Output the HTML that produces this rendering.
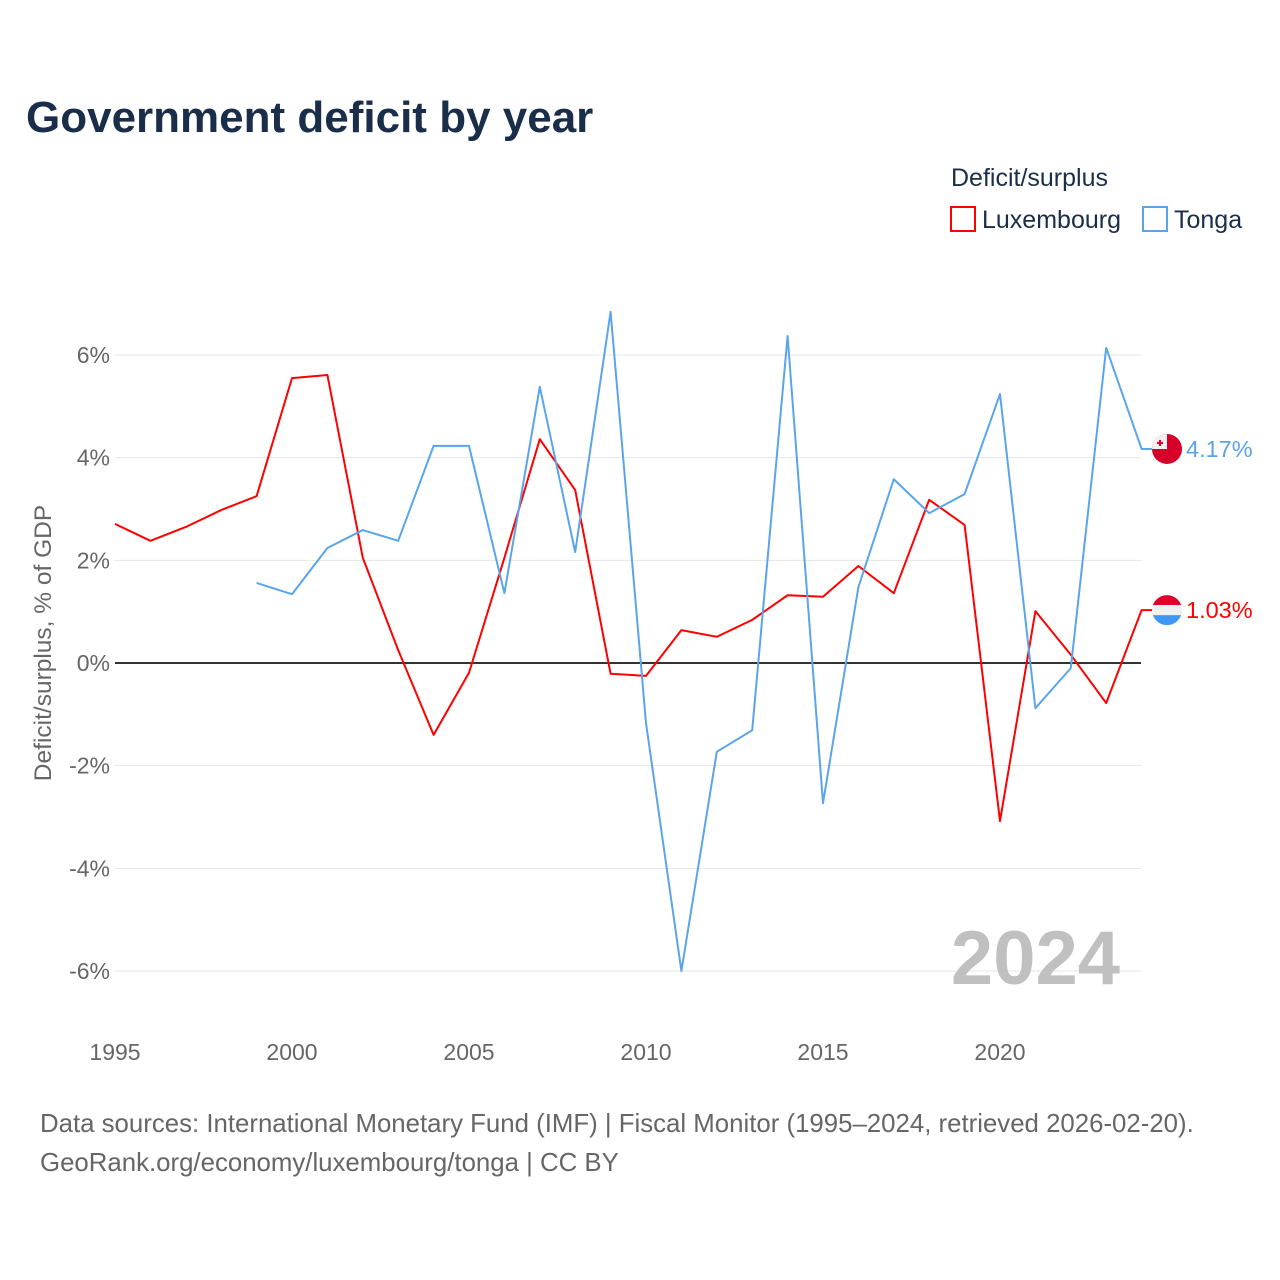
<!DOCTYPE html>
<html><head><meta charset="utf-8"><style>
body{margin:0;background:#fff;font-family:"Liberation Sans",sans-serif}
svg{display:block}
</style></head><body>
<svg id="c" width="1280" height="1280" xmlns="http://www.w3.org/2000/svg">
<text x="26" y="132" font-size="44" font-weight="bold" fill="#1a2e4a">Government deficit by year</text>
<text x="951" y="186" font-size="25" fill="#1a2e4a">Deficit/surplus</text>
<g><rect x="951" y="207" width="24" height="24" fill="none" stroke="#ff0000" stroke-width="2"/><text x="982" y="228" font-size="25" fill="#1a2e4a">Luxembourg</text></g>
<g><rect x="1143" y="207" width="24" height="24" fill="none" stroke="#5aa5ea" stroke-width="2"/><text x="1174" y="228" font-size="25" fill="#1a2e4a">Tonga</text></g>
<text transform="translate(51,643) rotate(-90)" text-anchor="middle" font-size="24.5" fill="#666">Deficit/surplus, % of GDP</text>
<g id="grid"></g><g id="series"></g>
<text x="1120" y="984" text-anchor="end" font-size="76" font-weight="bold" fill="#c0c0c0">2024</text>
<text x="40" y="1132" font-size="25.8" fill="#666">Data sources: International Monetary Fund (IMF) | Fiscal Monitor (1995–2024, retrieved 2026-02-20).</text>
<text x="40" y="1171" font-size="25.8" fill="#666">GeoRank.org/economy/luxembourg/tonga | CC BY</text>
</svg>
<script>
const yTicks=[6,4,2,0,-2,-4,-6];
const xTicks=[1995,2000,2005,2010,2015,2020];
const luxYears=[1995,1996,1997,1998,1999,2000,2001,2002,2003,2004,2005,2006,2007,2008,2009,2010,2011,2012,2013,2014,2015,2016,2017,2018,2019,2020,2021,2022,2023,2024];
const luxValues=[2.71,2.38,2.65,2.98,3.25,5.55,5.61,2.05,0.25,-1.40,-0.19,2.05,4.36,3.37,-0.21,-0.25,0.64,0.51,0.84,1.32,1.29,1.89,1.36,3.18,2.69,-3.08,1.01,0.16,-0.78,1.03];
const tonYears=[1999,2000,2001,2002,2003,2004,2005,2006,2007,2008,2009,2010,2011,2012,2013,2014,2015,2016,2017,2018,2019,2020,2021,2022,2023,2024];
const tonValues=[1.56,1.34,2.24,2.59,2.38,4.23,4.23,1.36,5.38,2.16,6.84,-1.17,-6.0,-1.73,-1.31,6.37,-2.73,1.48,3.58,2.92,3.29,5.24,-0.88,-0.10,6.14,4.17];
const NS="http://www.w3.org/2000/svg";
const xS=y=>115+(y-1995)*35.4;
const yS=v=>663-v*51.33;
function mk(t,a,p){const e=document.createElementNS(NS,t);for(const k in a)e.setAttribute(k,a[k]);p.appendChild(e);return e;}
const g=document.getElementById('grid');
yTicks.forEach(v=>{
 const l=mk('line',{x1:115,x2:1141,y1:yS(v),y2:yS(v),stroke:v===0?'#333':'#e6e6e6','stroke-width':v===0?2:1},g);
 
 
 const t=mk('text',{x:110,y:yS(v)+8,'text-anchor':'end','font-size':23,fill:'#666'},g);
 t.textContent=v+'%';
 
 
});
xTicks.forEach(y=>{
 const t=mk('text',{x:xS(y),y:1060,'text-anchor':'middle','font-size':23,fill:'#666'},g);
 t.textContent=y;
 
 
});
const s=document.getElementById('series');
function line(ys,vs,col,name){
 const d=ys.map((y,i)=>(i?'L':'M')+xS(y)+','+yS(vs[i])).join(' ');
 const p=mk('path',{d:d,fill:'none',stroke:col,'stroke-width':2,'stroke-linejoin':'round'},s);
 
 
}
line(luxYears,luxValues,'#ff0000','luxembourg-line');
line(tonYears,tonValues,'#5aa5ea','tonga-line');
const lv=luxValues[luxValues.length-1], tv=tonValues[tonValues.length-1];
const ly=yS(lv), ty=yS(tv);
mk('line',{x1:1141,x2:1152,y1:ly,y2:ly,stroke:'#ff0000','stroke-width':2},s);
mk('line',{x1:1141,x2:1152,y1:ty,y2:ty,stroke:'#5aa5ea','stroke-width':2},s);
const fl=mk('g',{},s);


mk('clipPath',{id:'cl'},fl).appendChild(document.createElementNS(NS,'circle'));
const cl=fl.querySelector('#cl circle');cl.setAttribute('cx',1167);cl.setAttribute('cy',ly);cl.setAttribute('r',15);
mk('rect',{x:1152,y:ly-15,width:30,height:10,fill:'#e0002a','clip-path':'url(#cl)'},fl);
mk('rect',{x:1152,y:ly-5,width:30,height:10,fill:'#f0f0f0','clip-path':'url(#cl)'},fl);
mk('rect',{x:1152,y:ly+5,width:30,height:10,fill:'#3d97f5','clip-path':'url(#cl)'},fl);
const ft=mk('g',{},s);


mk('circle',{cx:1167,cy:ty,r:15,fill:'#d8002a'},ft);
mk('path',{d:`M1152,${ty} A15,15 0 0 1 1167,${ty-15} L1167,${ty} Z`,fill:'#f0f0f0'},ft);
mk('rect',{x:1157,y:ty-7,width:6,height:2,fill:'#d8002a'},ft);
mk('rect',{x:1159,y:ty-9,width:2,height:6,fill:'#d8002a'},ft);
const t1=mk('text',{x:1186,y:ty+8,'font-size':23.5,fill:'#5aa5ea'},s);
t1.textContent=tv.toFixed(2)+'%';


const t2=mk('text',{x:1186,y:ly+8,'font-size':23.5,fill:'#ff0000'},s);
t2.textContent=lv.toFixed(2)+'%';


</script>
</body></html>
